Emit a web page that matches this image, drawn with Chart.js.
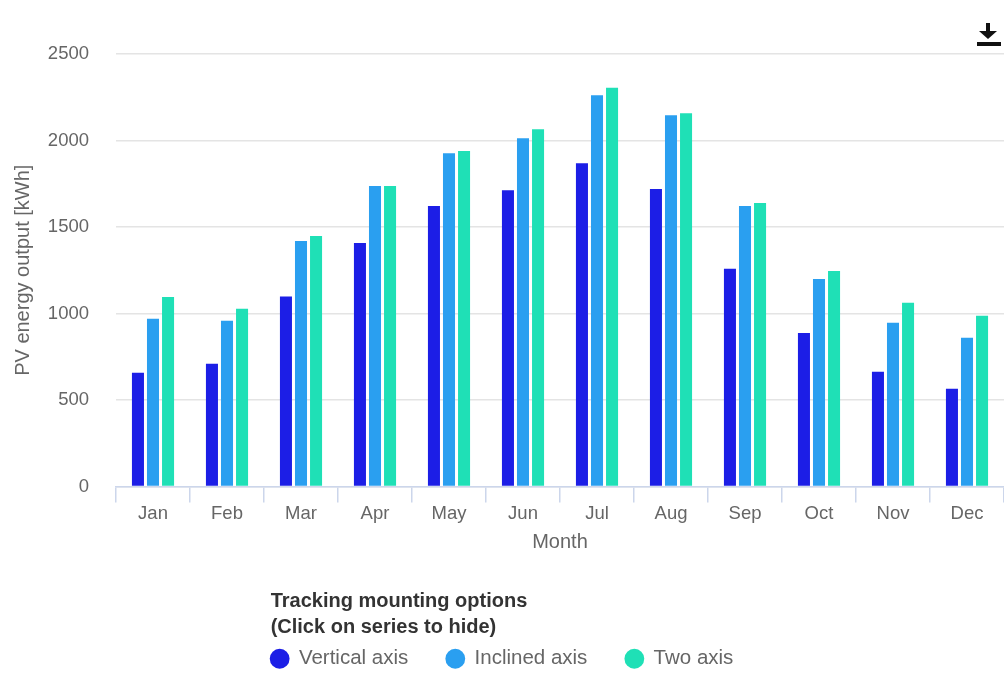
<!DOCTYPE html>
<html>
<head>
<meta charset="utf-8">
<script src="https://cdn.jsdelivr.net/npm/chart.js@4/dist/chart.umd.min.js"></script>
<style>
  html, body { margin: 0; padding: 0; background: #fff; overflow: hidden; }
  #wrap { position: relative; width: 1004px; height: 690px; }
</style>
</head>
<body>
<div id="wrap"><canvas id="pvChart"></canvas></div>
<script>
var months = ["Jan", "Feb", "Mar", "Apr", "May", "Jun", "Jul", "Aug", "Sep", "Oct", "Nov", "Dec"];
var seriesNames = ["Vertical axis", "Inclined axis", "Two axis"];
var verticalAxis = [658, 710, 1098, 1408, 1621, 1713, 1869, 1719, 1258, 888, 664, 565];
var inclinedAxis = [969, 958, 1419, 1737, 1927, 2013, 2262, 2146, 1621, 1200, 946, 860];
var twoAxis = [1096, 1027, 1448, 1737, 1939, 2065, 2305, 2158, 1639, 1246, 1062, 987];
var yTicks = [0, 500, 1000, 1500, 2000, 2500];
var legendTitle = ["Tracking mounting options", "(Click on series to hide)"];

var FONT = "'Liberation Sans', Arial, sans-serif";
var colors = ["#1c1ee6", "#2a9ff0", "#1fe0b6"];

// download arrow in the top right corner
var exportIcon = {
  id: "exportIcon",
  afterDraw: function (chart) {
    var c = chart.ctx;
    c.save();
    c.fillStyle = "#111";
    c.fillRect(986, 23, 4, 9);
    c.beginPath();
    c.moveTo(979, 31);
    c.lineTo(997, 31);
    c.lineTo(988, 39);
    c.closePath();
    c.fill();
    c.fillRect(977, 42, 24, 4);
    c.restore();
  }
};

// two-line legend heading, left aligned with the first legend item
var legendHeading = {
  id: "legendHeading",
  afterDraw: function (chart) {
    var lg = chart.legend;
    if (!lg || !lg.legendHitBoxes || !lg.legendHitBoxes.length) return;
    var c = chart.ctx;
    var x = lg.legendHitBoxes[0].left;
    c.save();
    c.font = "bold 20px " + FONT;
    c.fillStyle = "#333";
    c.textAlign = "left";
    c.textBaseline = "middle";
    legendTitle.forEach(function (line, i) {
      c.fillText(line, x, lg.top + 47 + i * 26);
    });
    c.restore();
  }
};

var ctx = document.getElementById("pvChart").getContext("2d");

var data = {
  labels: months,
  datasets: [
    { label: seriesNames[0], data: verticalAxis, backgroundColor: colors[0] },
    { label: seriesNames[1], data: inclinedAxis, backgroundColor: colors[1] },
    { label: seriesNames[2], data: twoAxis, backgroundColor: colors[2] }
  ]
};

var options = {
  responsive: true,
  maintainAspectRatio: false,
  animation: false,
  categoryPercentage: 0.61,
  barPercentage: 0.8,
  layout: { padding: { top: 54, left: 0, right: 0, bottom: 11 } },
  scales: {
    x: {
      grid: {
        offset: true,
        drawOnChartArea: false,
        drawTicks: true,
        tickLength: 16,
        tickColor: "#ccd6eb",
        lineWidth: 1.5
      },
      border: { color: "#ccd6eb", width: 1.5 },
      ticks: { color: "#666", font: { family: FONT, size: 18.5 }, padding: 0 },
      title: {
        display: true,
        text: "Month",
        color: "#666",
        font: { family: FONT, size: 20 },
        padding: { top: 6, bottom: 0 }
      },
      afterFit: function (axis) { axis.height = 68; }
    },
    y: {
      min: 0,
      max: 2500,
      afterBuildTicks: function (axis) {
        axis.ticks = yTicks.map(function (v) { return { value: v }; });
      },
      afterFit: function (axis) { axis.width = 116; },
      grid: { color: "#e4e4e4", lineWidth: 1.5, drawTicks: false },
      border: { display: false },
      ticks: {
        color: "#666",
        font: { family: FONT, size: 18.5 },
        padding: 27,
        callback: function (v) { return String(v); }
      },
      title: {
        display: true,
        text: "PV energy output [kWh]",
        color: "#666",
        font: { family: FONT, size: 20 },
        padding: { top: 11, bottom: 0 }
      }
    }
  },
  plugins: {
    tooltip: { enabled: false },
    legend: {
      position: "bottom",
      // blank title only reserves room for the heading drawn by legendHeading
      title: {
        display: true,
        text: " ",
        font: { family: FONT, size: 10, lineHeight: 1 },
        padding: { top: 46, bottom: 0 }
      },
      labels: {
        usePointStyle: true,
        pointStyle: "circle",
        boxWidth: 18,
        boxHeight: 14,
        padding: 38,
        color: "#666",
        font: { family: FONT, size: 20.5 }
      }
    }
  }
};

new Chart(ctx, { type: "bar", data: data, options: options, plugins: [exportIcon, legendHeading] });
</script>
</body>
</html>
